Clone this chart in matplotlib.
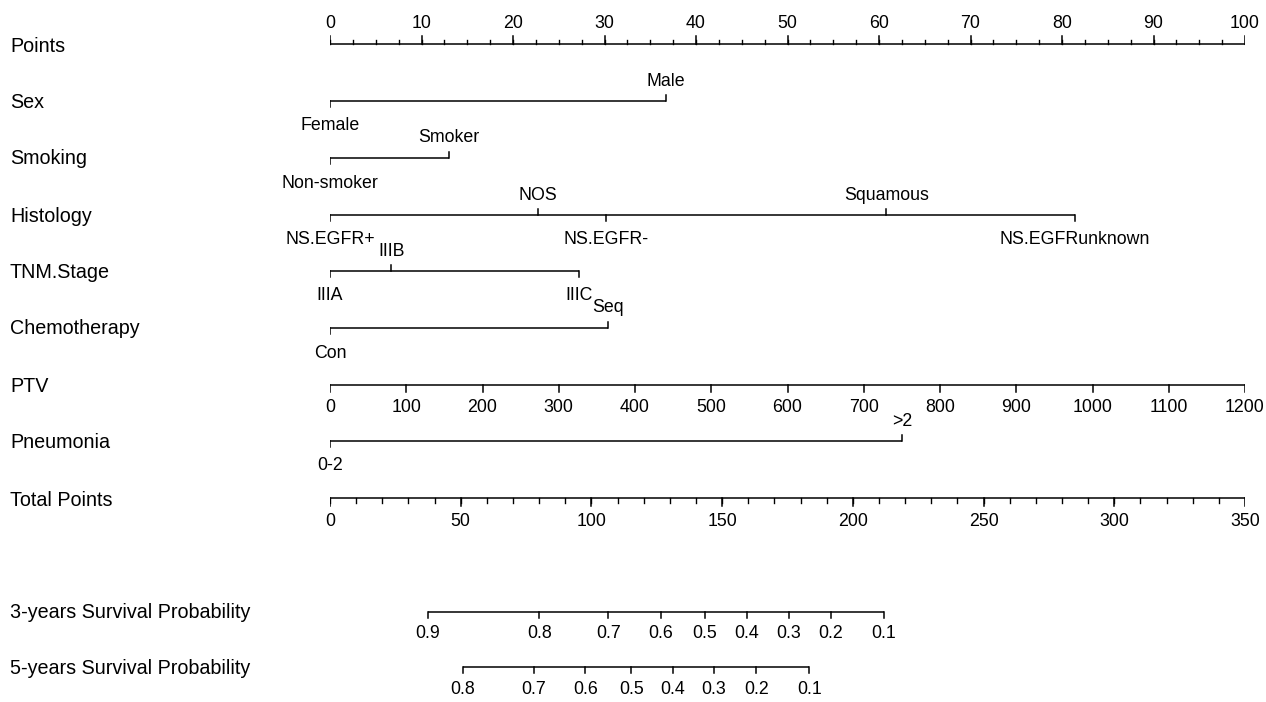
#!/usr/bin/env python3
"""
Nomogram: points for each predictor, total points and 3/5-year survival.
"""

import numpy as np
import matplotlib.pyplot as plt

plt.rcParams["font.family"] = ["Liberation Sans", "DejaVu Sans"]

# ---- data (all positions in "Points" units, 0-100) ----
points_major = np.arange(0, 101, 10)
points_minor = np.arange(0, 100.1, 2.5)

sex_levels = ["Female", "Male"]
sex_pts = [0, 36.7]

smoking_levels = ["Non-smoker", "Smoker"]
smoking_pts = [0, 13.0]

histology_levels = ["NS.EGFR+", "NOS", "NS.EGFR-", "Squamous", "NS.EGFRunknown"]
histology_pts = [0, 22.7, 30.2, 60.8, 81.4]

tnm_levels = ["IIIA", "IIIB", "IIIC"]
tnm_pts = [0, 6.7, 27.2]

chemo_levels = ["Con", "Seq"]
chemo_pts = [0, 30.4]

ptv_ticks = np.arange(0, 1201, 100)
ptv_max = 1200

pneumonia_levels = ["0-2", ">2"]
pneumonia_pts = [0, 62.5]

total_major = np.arange(0, 351, 50)
total_minor = np.arange(0, 351, 10)
total_max = 350

surv3_probs = ["0.9", "0.8", "0.7", "0.6", "0.5", "0.4", "0.3", "0.2", "0.1"]
surv3_total = [37.3, 80.1, 106.5, 126.6, 143.4, 159.5, 175.6, 191.6, 211.9]

surv5_probs = ["0.8", "0.7", "0.6", "0.5", "0.4", "0.3", "0.2", "0.1"]
surv5_total = [50.7, 78.0, 97.7, 115.3, 131.1, 146.7, 163.1, 183.3]

W, H = 1266, 702
fig = plt.figure(figsize=(W / 100, H / 100), dpi=100)
ax = fig.add_axes([330 / W, 0, (1245 - 330) / W, 1])
ax.set_xlim(0, 100)
ax.set_ylim(H, 0)
ax.axis("off")

LW = 1.1
LABEL_FS = 14.2
TICK_FS = 12.8
label_x = (10 - 330) / 915 * 100

rows = {
    "Points": 44,
    "Sex": 101,
    "Smoking": 158,
    "Histology": 215,
    "TNM.Stage": 271,
    "Chemotherapy": 328,
    "PTV": 385,
    "Pneumonia": 441,
    "Total Points": 498,
    "3-years Survival Probability": 612,
    "5-years Survival Probability": 667,
}
row_label_dy = {"Points": 2, "Total Points": 2}

for name, y in rows.items():
    ax.text(label_x, y + row_label_dy.get(name, 1), name, fontsize=LABEL_FS,
            ha="left", va="center", clip_on=False)


def scale_axis(y, major, minor, labels, up, major_len=8, minor_len=4.5, gap=23):
    x0, x1 = min(major), max(major)
    ax.plot([x0, x1], [y, y], color="black", lw=LW, solid_capstyle="butt")
    sign = -1 if up else 1
    for x in minor:
        ax.plot([x, x], [y, y + sign * minor_len], color="black", lw=LW * 0.9)
    for x, lab in zip(major, labels):
        ax.plot([x, x], [y, y + sign * major_len], color="black", lw=LW)
        ax.text(x, y + sign * gap, lab, fontsize=TICK_FS, ha="center", va="center")


def category_axis(y, pts, levels, tick_len=6):
    ax.plot([min(pts), max(pts)], [y, y], color="black", lw=LW, solid_capstyle="butt")
    for i, (x, lab) in enumerate(zip(pts, levels)):
        if i % 2 == 0:
            ax.plot([x, x], [y, y + tick_len], color="black", lw=LW)
            ax.text(x, y + 25, lab, fontsize=TICK_FS, ha="center", va="center")
        else:
            ax.plot([x, x], [y, y - tick_len], color="black", lw=LW)
            ax.text(x, y - 20, lab, fontsize=TICK_FS, ha="center", va="center")


# Points scale
scale_axis(rows["Points"], points_major, points_minor,
           [str(v) for v in points_major], up=True, gap=20)

category_axis(rows["Sex"], sex_pts, sex_levels)
category_axis(rows["Smoking"], smoking_pts, smoking_levels)
category_axis(rows["Histology"], histology_pts, histology_levels)
category_axis(rows["TNM.Stage"], tnm_pts, tnm_levels)
category_axis(rows["Chemotherapy"], chemo_pts, chemo_levels)

# PTV (continuous, full points range)
ptv_x = ptv_ticks / ptv_max * 100
scale_axis(rows["PTV"], ptv_x, [], [str(v) for v in ptv_ticks], up=False,
           major_len=7)

category_axis(rows["Pneumonia"], pneumonia_pts, pneumonia_levels)

# Total points
scale_axis(rows["Total Points"], total_major / total_max * 100,
           total_minor / total_max * 100, [str(v) for v in total_major],
           up=False, major_len=8, minor_len=4.5)

# Survival probabilities
scale_axis(rows["3-years Survival Probability"],
           np.array(surv3_total) / total_max * 100, [], surv3_probs,
           up=False, major_len=6, gap=22)
scale_axis(rows["5-years Survival Probability"],
           np.array(surv5_total) / total_max * 100, [], surv5_probs,
           up=False, major_len=6, gap=22)

fig.savefig("out.png", dpi=100)
plt.close(fig)
